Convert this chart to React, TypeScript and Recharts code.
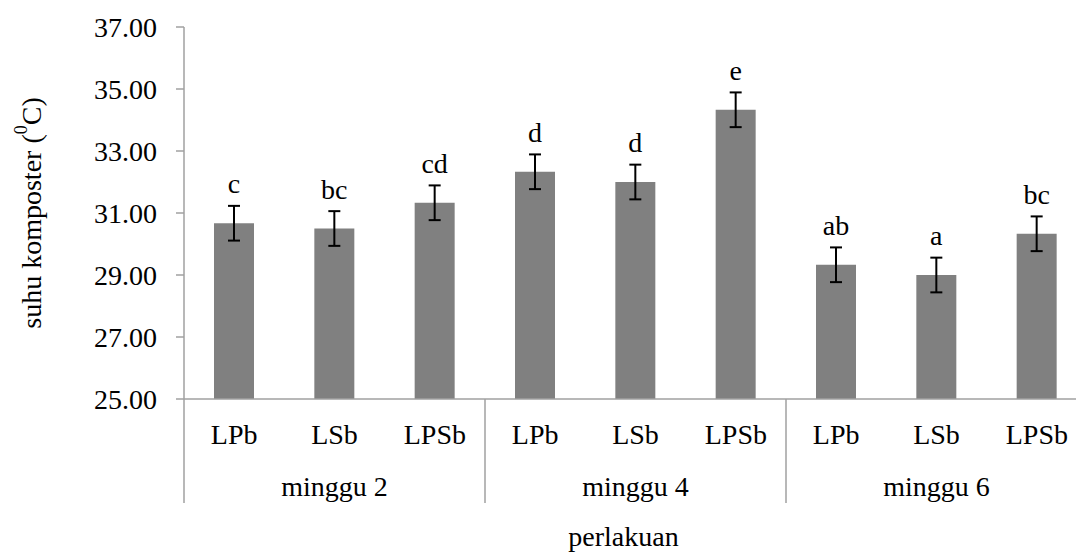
import { BarChart, Bar, XAxis, YAxis, ErrorBar, LabelList, Label } from "recharts";

const treatments = ["LPb", "LSb", "LPSb", "LPb", "LSb", "LPSb", "LPb", "LSb", "LPSb"];
const weeks = ["minggu 2", "minggu 4", "minggu 6"];
const temperature = [30.67, 30.5, 31.33, 32.33, 32.0, 34.33, 29.33, 29.0, 30.33];
const stdError = [0.56, 0.56, 0.56, 0.56, 0.56, 0.56, 0.56, 0.56, 0.56];
const notation = ["c", "bc", "cd", "d", "d", "e", "ab", "a", "bc"];
const yTicks = [25, 27, 29, 31, 33, 35, 37];

const FONT = '"Liberation Serif", "Times New Roman", serif';
const AXIS = "#a0a0a0";

const CHART_W = 1090;
const CHART_H = 554;
const MARGIN = { top: 27, right: 3, bottom: 0, left: 0 };
const Y_AXIS_W = 184;
const CAT_AXIS_H = 52;
const GRP_AXIS_H = 103;
const BAND = (CHART_W - MARGIN.left - MARGIN.right - Y_AXIS_W) / treatments.length;

const data = treatments.map((name, i) => ({
  name,
  week: weeks[Math.floor(i / 3)],
  value: temperature[i],
  err: stdError[i],
  sig: notation[i],
}));

function CategoryTick({ x, y, payload }: any) {
  return (
    <text x={x} y={y + 45} textAnchor="middle" fontSize={28} fontFamily={FONT} fill="#000">
      {payload.value}
    </text>
  );
}

function GroupTick({ x, y, index }: any) {
  const pos = index % 3;
  if (pos === 0) {
    const lx = x - BAND / 2;
    return <line x1={lx} x2={lx} y1={y - CAT_AXIS_H} y2={y + 52} stroke={AXIS} strokeWidth={1.5} />;
  }
  if (pos === 1) {
    return (
      <text x={x} y={y + 45} textAnchor="middle" fontSize={28} fontFamily={FONT} fill="#000">
        {data[index].week}
      </text>
    );
  }
  return <g />;
}

function XTitle({ viewBox }: any) {
  return (
    <text
      x={viewBox.x + viewBox.width / 2 - 12}
      y={viewBox.y + 95}
      textAnchor="middle"
      fontSize={28}
      fontFamily={FONT}
      fill="#000"
    >
      perlakuan
    </text>
  );
}

function YTitle({ viewBox }: any) {
  const cx = viewBox.x + 31;
  const cy = viewBox.y + viewBox.height / 2;
  return (
    <text
      x={cx}
      y={cy}
      transform={`rotate(-90 ${cx} ${cy})`}
      textAnchor="middle"
      dominantBaseline="central"
      fontSize={28}
      fontFamily={FONT}
      fill="#000"
    >
      <tspan>suhu komposter (</tspan>
      <tspan fontSize={18} dy={-10}>0</tspan>
      <tspan dy={10}>C)</tspan>
    </text>
  );
}

export default function App() {
  return (
    <div
      style={{
        position: "absolute",
        left: 0,
        top: 0,
        width: 1076,
        height: CHART_H,
        overflow: "hidden",
        background: "#fff",
      }}
    >
      <BarChart width={CHART_W} height={CHART_H} data={data} margin={MARGIN}>
        <YAxis
          domain={[25, 37]}
          ticks={yTicks}
          width={Y_AXIS_W}
          tickFormatter={(v: number) => v.toFixed(2)}
          axisLine={{ stroke: AXIS, strokeWidth: 1.5 }}
          tickLine={{ stroke: AXIS, strokeWidth: 1.5 }}
          tickSize={8}
          tickMargin={19}
          tick={{ fontSize: 28, fontFamily: FONT, fill: "#000" }}
        >
          <Label content={YTitle} />
        </YAxis>
        <XAxis
          dataKey="name"
          interval={0}
          height={CAT_AXIS_H}
          axisLine={{ stroke: AXIS, strokeWidth: 1.5 }}
          tickLine={false}
          tickSize={0}
          tickMargin={0}
          tick={<CategoryTick />}
        />
        <XAxis
          xAxisId="grp"
          dataKey="name"
          interval={0}
          height={GRP_AXIS_H}
          axisLine={false}
          tickLine={false}
          tickSize={0}
          tickMargin={0}
          tick={<GroupTick />}
        >
          <Label content={XTitle} />
        </XAxis>
        <Bar dataKey="value" fill="#808080" barSize={40} isAnimationActive={false}>
          <ErrorBar dataKey="err" width={6} stroke="#000" strokeWidth={2} direction="y" />
          <LabelList
            dataKey="sig"
            position="top"
            offset={30}
            style={{ fontSize: 28, fontFamily: FONT, fill: "#000" }}
          />
        </Bar>
      </BarChart>
    </div>
  );
}
